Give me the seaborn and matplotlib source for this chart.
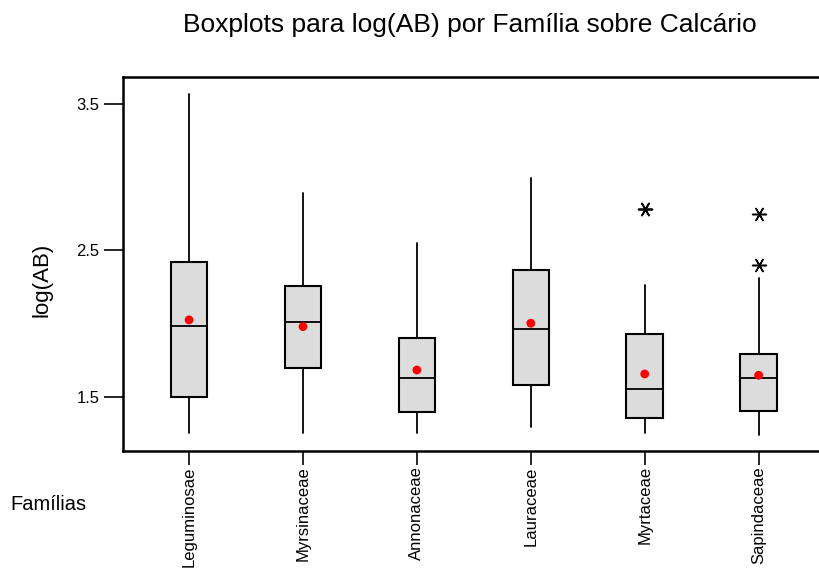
import matplotlib
matplotlib.use("Agg")
import matplotlib.pyplot as plt
import seaborn as sns
import pandas as pd

familias = ["Leguminosae", "Myrsinaceae", "Annonaceae", "Lauraceae", "Myrtaceae", "Sapindaceae"]
whisker_low = [1.254, 1.254, 1.252, 1.297, 1.252, 1.243]
q1 = [1.500, 1.698, 1.398, 1.582, 1.359, 1.407]
medians = [1.985, 2.012, 1.632, 1.962, 1.552, 1.632]
q3 = [2.420, 2.260, 1.905, 2.365, 1.928, 1.791]
whisker_high = [3.566, 2.893, 2.549, 2.995, 2.264, 2.310]
means = [2.026, 1.980, 1.684, 2.003, 1.657, 1.648]
outlier_fam = ["Myrtaceae", "Myrtaceae", "Sapindaceae", "Sapindaceae"]
outlier_val = [2.783, 2.786, 2.747, 2.403]
yticks = [1.5, 2.5, 3.5]

sns.set_theme(style="white")
plt.rcParams["font.family"] = ["Liberation Sans", "DejaVu Sans"]
plt.rcParams["text.color"] = "black"
plt.rcParams["axes.labelcolor"] = "black"
plt.rcParams["xtick.color"] = "black"
plt.rcParams["ytick.color"] = "black"

fig = plt.figure(figsize=(8.19, 5.73), dpi=100)
ax = fig.add_axes([123 / 819, 1 - 451 / 573, 1 - 123 / 819, (451 - 77) / 573])

stats = []
for i, f in enumerate(familias):
    stats.append(dict(label=f, whislo=whisker_low[i], q1=q1[i], med=medians[i],
                      q3=q3[i], whishi=whisker_high[i], fliers=[]))
pos = list(range(len(familias)))
ax.bxp(stats, positions=pos, widths=0.32, patch_artist=True, showcaps=False,
       boxprops=dict(facecolor="#DCDCDC", edgecolor="black", linewidth=1.5),
       medianprops=dict(color="black", linewidth=1.3),
       whiskerprops=dict(color="black", linewidth=1.3))

mdf = pd.DataFrame({"pos": pos, "mean": means})
sns.scatterplot(data=mdf, x="pos", y="mean", ax=ax, color="red", s=40,
                edgecolor="none", zorder=5, legend=False)

odf = pd.DataFrame({"pos": [familias.index(f) for f in outlier_fam], "val": outlier_val})
sns.scatterplot(data=odf, x="pos", y="val", ax=ax, marker=(6, 2, 90), s=100,
                color="black", linewidth=1.1, zorder=5, legend=False)

ax.set_xlim(-0.58, 5.53)
ax.set_ylim(1.131, 3.684)
ax.set_yticks(yticks)
ax.set_yticklabels([str(t) for t in yticks], fontsize=12)
ax.set_xticks(pos)
ax.set_xticklabels(familias, rotation=90, fontsize=12, va="top")
ax.tick_params(axis="y", direction="out", length=14, width=1.2, pad=3, left=True, color="black")
ax.tick_params(axis="x", direction="out", length=10, width=1.2, pad=1, bottom=True, color="black")
ax.set_xlabel("")
ax.set_ylabel("")
for s in ["left", "bottom", "top"]:
    ax.spines[s].set_visible(True)
    ax.spines[s].set_color("black")
    ax.spines[s].set_linewidth(1.8)
ax.spines["right"].set_visible(False)
ax.grid(False)

fig.text(470 / 819, 1 - 25 / 573, "Boxplots para log(AB) por Família sobre Calcário",
         ha="center", va="center", fontsize=19)
fig.text(42 / 819, 1 - 280 / 573, "log(AB)", rotation=90, ha="center", va="center", fontsize=16)
fig.text(10 / 819, 1 - 505 / 573, "Famílias", ha="left", va="center", fontsize=14.5)

fig.savefig("out.png", dpi=100)
